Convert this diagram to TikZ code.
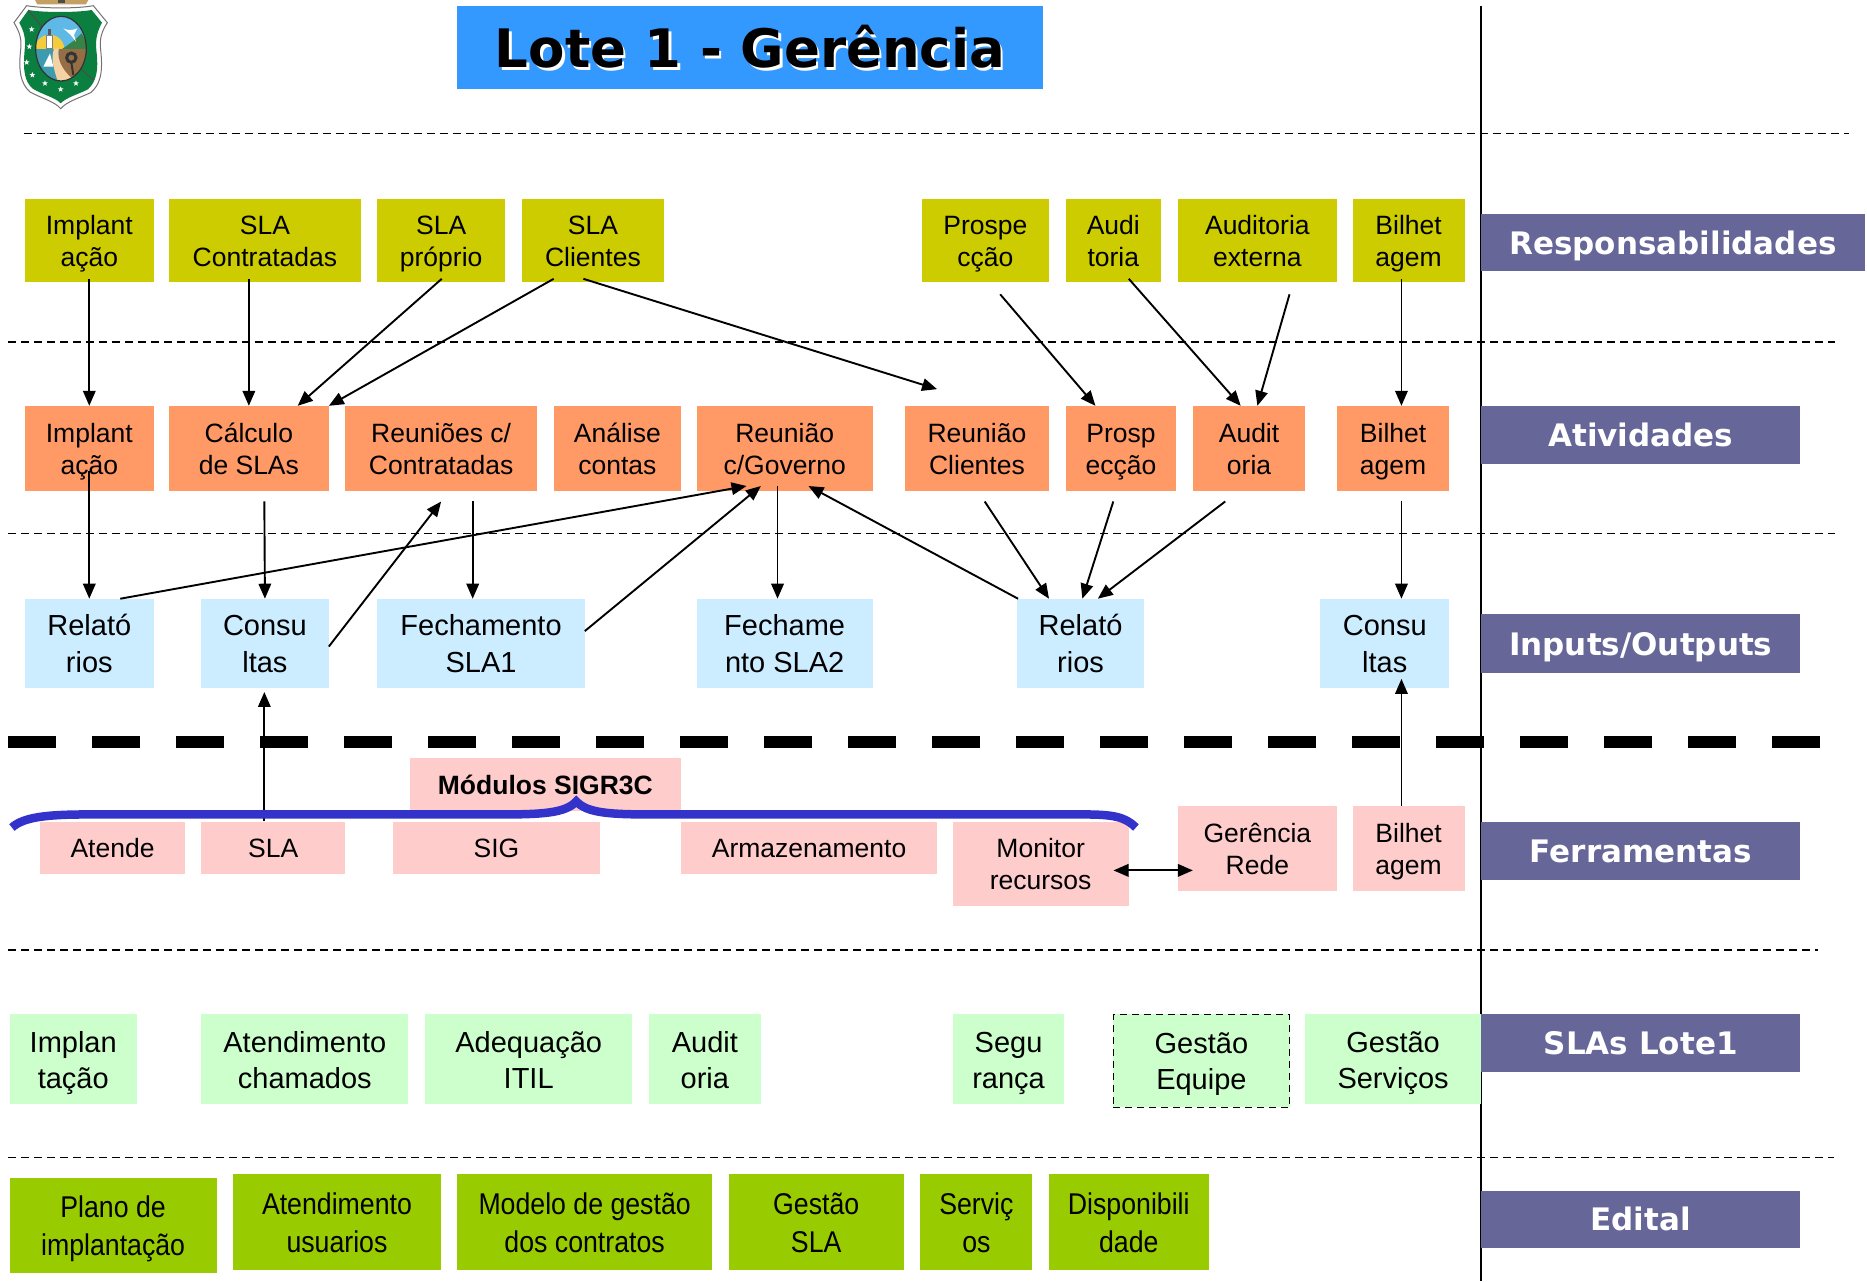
\documentclass[tikz,border=0pt]{standalone}
\usepackage{fontspec}
\setmainfont{Liberation Sans}
\newfontfamily\cond[FakeStretch=0.89]{Liberation Sans}
\newfontfamily\dvb{DejaVu Sans Bold}
\usetikzlibrary{arrows.meta,shapes.geometric}
\definecolor{cresp}{HTML}{CCCC00}
\definecolor{cativ}{HTML}{FF9966}
\definecolor{cio}{HTML}{CCECFF}
\definecolor{cfer}{HTML}{FFCCCC}
\definecolor{csla}{HTML}{CCFFCC}
\definecolor{cedi}{HTML}{99CC00}
\definecolor{clab}{HTML}{666699}
\definecolor{ctit}{HTML}{3399FF}
\definecolor{cbrace}{HTML}{3333CC}
\definecolor{cgreen}{HTML}{0B7F3F}
\newcommand\onestrut{\rule[-.35em]{0pt}{1.45em}}
\newcommand\twostrut{\rule[-.35em]{0pt}{\dimexpr\baselineskip+1.45em\relax}}
\makeatletter
\newcommand\pickstrut[1]{\in@{\\}{#1}\ifin@\twostrut\else\onestrut\fi}
\makeatother
\tikzset{
  boxbase/.style={inner sep=0pt,align=center,text=black},
  respbox/.style={boxbase,fill=cresp,font=\fontsize{26.5}{32}\selectfont},
  ativbox/.style={boxbase,fill=cativ,font=\fontsize{26.5}{32}\selectfont},
  iobox/.style={boxbase,fill=cio,font=\fontsize{29}{37}\selectfont},
  ferbox/.style={boxbase,fill=cfer,font=\fontsize{26.5}{32}\selectfont},
  modbox/.style={boxbase,fill=cfer,font=\fontsize{26.5}{32}\selectfont\bfseries},
  slabox/.style={boxbase,fill=csla,font=\fontsize{29}{36}\selectfont},
  slaedge/.style={slabox,draw=black,line width=1.6pt,dash pattern=on 7pt off 5pt},
  edibox/.style={boxbase,fill=cedi,font=\cond\fontsize{30}{38}\selectfont},
  labbox/.style={boxbase,fill=clab,text=white,font=\dvb\fontsize{31}{36}\selectfont},
  titbox/.style={boxbase,fill=ctit,font=\dvb\fontsize{53}{60}\selectfont},
  arr/.style={-{Triangle[length=15pt,width=12.5pt]},line width=1.9pt,black},
  arrb/.style={{Triangle[length=15pt,width=12.5pt]}-{Triangle[length=15pt,width=12.5pt]},line width=1.9pt,black},
  thindash/.style={line width=1.6pt,dash pattern=on 8pt off 5pt},
  thickdash/.style={line width=12pt,dash pattern=on 48pt off 36pt},
}
\newcommand\bx[7]{%
  \pgfmathsetmacro\bw{(#5-#3)*1.1907}%
  \pgfmathsetmacro\bh{(#6-#4)*1.1907}%
  \node[#2,minimum width=\bw pt,minimum height=\bh pt,execute at begin node={\pickstrut{#7}}] (#1) at ({(#3+#5)/2},{(#4+#6)/2}) {#7};}
\newcommand\shadowed[1]{\rlap{\kern2.5pt\raisebox{-2.5pt}{\color{white}#1}}#1}
\begin{document}
\begin{tikzpicture}[x=1.1907pt,y=-1.1907pt]
\useasboundingbox[fill=white] (0,0) rectangle (1568,1076);
% emblem
\begin{scope}[x=0.3333pt,y=-0.3333pt]
  \fill[color={rgb,255:red,196;green,160;blue,100}] (105,0) -- (265,0) -- (258,13) -- (112,13) -- cycle;
  \fill[black!70] (175,0) rectangle (195,9);
  \filldraw[fill=white,draw=black!55,line width=1pt] (80,17) .. controls (130,26) and (235,26) .. (280,17) -- (322,68) .. controls (305,95) and (298,115) .. (302,150) .. controls (310,220) and (300,255) .. (272,278) .. controls (235,295) and (200,305) .. (182,326) .. controls (165,305) and (125,295) .. (90,276) .. controls (62,250) and (55,215) .. (62,150) .. controls (66,115) and (58,95) .. (42,68) -- cycle;
  \fill[cgreen] (85,30) .. controls (130,38) and (230,38) .. (275,30) -- (306,68) .. controls (292,95) and (286,115) .. (289,150) .. controls (297,215) and (288,245) .. (264,268) .. controls (230,285) and (200,292) .. (182,310) .. controls (165,292) and (130,285) .. (98,266) .. controls (75,245) and (68,215) .. (74,150) .. controls (78,115) and (72,95) .. (58,68) -- cycle;
  \draw[black!70,line width=1pt] (85,30) -- (125,80) (280,240) -- (240,205);
  \begin{scope}
    \clip (183,146) ellipse [x radius=76,y radius=97];
    \fill[color={rgb,255:red,95;green,185;blue,230}] (100,40) rectangle (270,150);
    \fill[color={rgb,255:red,245;green,205;blue,60}] (105,148) arc (180:360:44);
    \fill[color={rgb,255:red,55;green,130;blue,70}] (185,148) -- (222,122) -- (245,100) -- (270,148) -- cycle;
    \fill[color={rgb,255:red,60;green,155;blue,175}] (100,146) rectangle (190,250);
    \fill[color={rgb,255:red,150;green,110;blue,70}] (178,146) rectangle (270,250);
    \fill[color={rgb,255:red,245;green,210;blue,165}] (176,146) .. controls (170,185) and (190,215) .. (232,250) -- (175,250) .. controls (165,215) and (150,180) .. (162,146) -- cycle;
  \end{scope}
  \draw[black!80,line width=1.2pt] (183,146) ellipse [x radius=76,y radius=97];
  \fill[white,draw=black!50] (140,146) rectangle (157,105);
  \fill[black!65] (144,105) rectangle (153,87);
  \fill[white] (130,200) -- (150,160) -- (160,200) -- cycle;
  \fill[white] (190,85) .. controls (205,92) and (215,92) .. (232,85) -- (222,105) -- (228,125) -- (212,105) -- cycle;
  \draw[black!80,line width=3pt] (214,173) circle (14);
  \draw[black!80,line width=2pt] (214,188) -- (220,225);
  \foreach \sx/\sy in {95/88,88/140,80/187,97/225,135/250,182/268,228/250}
    \node[star,star points=5,star point ratio=2.4,fill=white,minimum size=6pt,inner sep=0pt] (st\sx) at (\sx,\sy) {};
\end{scope}
% title
\bx{title}{titbox}{384}{5}{876}{75}{\shadowed{Lote 1 - Gerência}}
% separators
\draw[thindash] (20,112) -- (1553,112);
\draw[thindash] (7,287) -- (1541,287);
\draw[thindash] (7,448) -- (1541,448);
\draw[thindash] (7,798) -- (1527,798);
\draw[thindash] (7,972) -- (1540,972);
\draw[thickdash] (7,623) -- (1530,623);
\draw[line width=1.8pt] (1244,5) -- (1244,1076);
% responsabilidades
\bx{r1}{respbox}{21}{167}{129}{237}{Implant\\ação}
\bx{r2}{respbox}{142}{167}{303}{237}{SLA\\Contratadas}
\bx{r3}{respbox}{317}{167}{424}{237}{SLA\\próprio}
\bx{r4}{respbox}{438}{167}{558}{237}{SLA\\Clientes}
\bx{r5}{respbox}{774}{167}{881}{237}{Prospe\\cção}
\bx{r6}{respbox}{895}{167}{975}{237}{Audi\\toria}
\bx{r7}{respbox}{989}{167}{1123}{237}{Auditoria\\externa}
\bx{r8}{respbox}{1136}{167}{1230}{237}{Bilhet\\agem}
% atividades
\bx{a1}{ativbox}{21}{341}{129}{412}{Implant\\ação}
\bx{a2}{ativbox}{142}{341}{276}{412}{Cálculo\\de SLAs}
\bx{a3}{ativbox}{290}{341}{451}{412}{Reuniões c/\\Contratadas}
\bx{a4}{ativbox}{465}{341}{572}{412}{Análise\\contas}
\bx{a5}{ativbox}{585}{341}{733}{412}{Reunião\\c/Governo}
\bx{a6}{ativbox}{760}{341}{881}{412}{Reunião\\Clientes}
\bx{a7}{ativbox}{895}{341}{988}{412}{Prosp\\ecção}
\bx{a8}{ativbox}{1002}{341}{1096}{412}{Audit\\oria}
\bx{a9}{ativbox}{1123}{341}{1217}{412}{Bilhet\\agem}
% inputs / outputs
\bx{i1}{iobox}{21}{503}{129}{578}{Relató\\rios}
\bx{i2}{iobox}{169}{503}{276}{578}{Consu\\ltas}
\bx{i3}{iobox}{317}{503}{491}{578}{Fechamento\\SLA1}
\bx{i4}{iobox}{585}{503}{733}{578}{Fechame\\nto SLA2}
\bx{i5}{iobox}{854}{503}{961}{578}{Relató\\rios}
\bx{i6}{iobox}{1109}{503}{1217}{578}{Consu\\ltas}
% ferramentas
\bx{fm}{modbox}{344}{637}{572}{681}{Módulos SIGR3C}
\bx{f1}{ferbox}{34}{690}{155}{734}{Atende}
\bx{f2}{ferbox}{169}{690}{290}{734}{SLA}
\bx{f3}{ferbox}{330}{690}{504}{734}{SIG}
\bx{f4}{ferbox}{572}{690}{787}{734}{Armazenamento}
\bx{f5}{ferbox}{800}{690}{948}{761}{Monitor\\recursos}
\bx{f6}{ferbox}{989}{677}{1123}{748}{Gerência\\Rede}
\bx{f7}{ferbox}{1136}{677}{1230}{748}{Bilhet\\agem}
% SLAs
\bx{s1}{slabox}{8}{852}{115}{927}{Implan\\tação}
\bx{s2}{slabox}{169}{852}{343}{927}{Atendimento\\chamados}
\bx{s3}{slabox}{357}{852}{531}{927}{Adequação\\ITIL}
\bx{s4}{slabox}{545}{852}{639}{927}{Audit\\oria}
\bx{s5}{slabox}{800}{852}{894}{927}{Segu\\rança}
\bx{s6}{slaedge}{935}{852}{1083}{930}{Gestão\\Equipe}
\bx{s7}{slabox}{1096}{852}{1244}{927}{Gestão\\Serviços}
% edital
\bx{e1}{edibox}{8}{989}{182}{1069}{Plano de\\implantação}
\bx{e2}{edibox}{196}{986}{370}{1067}{Atendimento\\usuarios}
\bx{e3}{edibox}{384}{986}{598}{1067}{Modelo de gestão\\dos contratos}
\bx{e4}{edibox}{612}{986}{759}{1067}{Gestão\\SLA}
\bx{e5}{edibox}{773}{986}{867}{1067}{Serviç\\os}
\bx{e6}{edibox}{881}{986}{1015}{1067}{Disponibili\\dade}
% row labels
\bx{l1}{labbox}{1244}{180}{1566}{228}{Responsabilidades}
\bx{l2}{labbox}{1244}{341}{1512}{390}{Atividades}
\bx{l3}{labbox}{1244}{516}{1512}{565}{Inputs/Outputs}
\bx{l4}{labbox}{1244}{690}{1512}{739}{Ferramentas}
\bx{l5}{labbox}{1244}{852}{1512}{900}{SLAs Lote1}
\bx{l6}{labbox}{1244}{1000}{1512}{1048}{Edital}
% connectors
\draw[arr] ([shift={(0,-3)}]r1.south) -- (a1.north);
\draw[arr] ([shift={(-13.5,-3)}]r2.south) -- (a2.north);
\draw[arr] ([shift={(0.5,-3)}]r3.south) -- ([shift={(41,0)}]a2.north);
\draw[arr] ([shift={(-33,-3)}]r4.south) -- (a2.north east);
\draw[arr] ([shift={(-8,-3)}]r4.south) -- ([shift={(-33.5,-14)}]a6.north);
\draw[arr] ([shift={(12.5,10)}]r5.south) -- ([shift={(-21.5,0)}]a7.north);
\draw[arr] ([shift={(13,-3)}]r6.south) -- ([shift={(-7,0)}]a8.north);
\draw[arr] ([shift={(27,10)}]r7.south) -- ([shift={(7,0)}]a8.north);
\draw[arr] ([shift={(-6,-3)}]r8.south) -- ([shift={(7,0)}]a9.north);
\draw[arr] ([shift={(0,-17)}]a1.south) -- (i1.north);
\draw[arr] ([shift={(13,9)}]a2.south) -- (i2.north);
\draw[arr] ([shift={(26.5,9)}]a3.south) -- ([shift={(-7,0)}]i3.north);
\draw[arr] ([shift={(-6,-4)}]a5.south) -- ([shift={(-6,0)}]i4.north);
\draw[arr] ([shift={(6.5,9)}]a6.south) -- ([shift={(-26.5,0)}]i5.north);
\draw[arr] ([shift={(-6.5,9)}]a7.south) -- ([shift={(1.5,0)}]i5.north);
\draw[arr] ([shift={(-20,9)}]a8.south) -- ([shift={(14.5,0)}]i5.north);
\draw[arr] ([shift={(7,9)}]a9.south) -- ([shift={(14,0)}]i6.north);
\draw[arr] ([shift={(26,0)}]i1.north) -- ([shift={(-32,-4)}]a5.south);
\draw[arr] ([shift={(0,2.5)}]i2.east) -- ([shift={(0,9)}]a3.south);
\draw[arr] ([shift={(0,-10.5)}]i3.east) -- ([shift={(-20,-4)}]a5.south);
\draw[arr] ([shift={(-52.5,0)}]i5.north) -- ([shift={(20,-4)}]a5.south);
\draw[arr] ([shift={(-7.5,0)}]f2.north) -- ([shift={(-0.5,3)}]i2.south);
\draw[arr] ([shift={(-6,0)}]f7.north) -- ([shift={(14,-8)}]i6.south);
\draw[arrb] ([shift={(-13,5.5)}]f5.east) -- ([shift={(13,18.5)}]f6.west);
% brace
\coordinate (bl) at (10,695);
\coordinate (bt) at (484,673);
\coordinate (br) at (954,695);
\draw[cbrace,line width=8.5pt,miter limit=10] (bl) .. controls (20,686) and (40,684) .. (75,684) -- (420,684) .. controls (455,684) and (475,683) .. (bt) .. controls (493,683) and (513,684) .. (548,684) -- (910,684) .. controls (935,684) and (945,686) .. (br);
\end{tikzpicture}
\end{document}
